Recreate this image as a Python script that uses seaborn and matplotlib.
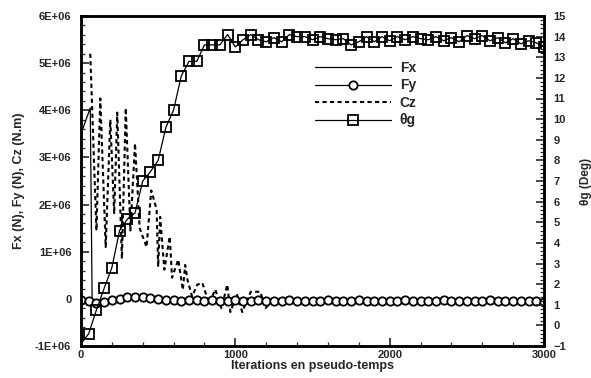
import numpy as np
import pandas as pd
import matplotlib
matplotlib.use("Agg")
import matplotlib.pyplot as plt
import seaborn as sns
from matplotlib.ticker import MultipleLocator, FuncFormatter
from matplotlib.lines import Line2D

# iterations (step 50) for theta_g and Fy
iters = list(range(0, 3001, 50))

# theta_g (deg), right axis
theta_g = [-0.9, -0.4, 0.75, 1.8, 2.8, 4.6, 5.15, 5.45, 7.0, 7.45,
           8.0, 9.6, 10.45, 12.1, 12.8, 12.8, 13.6, 13.6, 13.6, 14.1,
           13.5, 13.85, 14.1, 13.85, 13.75, 13.95, 13.75, 14.1, 14.0, 14.0,
           13.85, 14.0, 13.9, 13.85, 13.9, 13.6, 13.75, 14.0, 13.75, 14.0,
           13.8, 14.0, 13.85, 14.0, 13.9, 13.85, 14.0, 13.8, 13.95, 13.75,
           14.05, 13.9, 14.05, 13.8, 13.95, 13.7, 13.9, 13.65, 13.8, 13.7,
           13.5]

# Fy (1E+06 N)
fy = [-0.02, -0.05, -0.08, -0.06, -0.03, 0.0, 0.03, 0.04, 0.03, 0.02,
      0.0, -0.02, -0.03, -0.04, -0.03, -0.03, -0.04, -0.03, -0.05, -0.04,
      -0.03, -0.04, -0.05, -0.03, -0.04, -0.05, -0.04, -0.03, -0.05, -0.04,
      -0.04, -0.05, -0.03, -0.04, -0.05, -0.04, -0.03, -0.05, -0.04, -0.04,
      -0.05, -0.04, -0.03, -0.05, -0.04, -0.05, -0.04, -0.03, -0.05, -0.04,
      -0.05, -0.04, -0.05, -0.03, -0.04, -0.05, -0.04, -0.05, -0.05, -0.04,
      -0.06]

# Fx (1E+06 N)
fx_iters = [0, 60, 72, 110, 160, 250, 400, 600, 800, 1000, 1500, 2000, 2500, 3000]
fx = [3.5, 4.05, 0.0, -0.06, -0.08, -0.03, 0.04, 0.0, -0.03, -0.05, -0.04, -0.05, -0.05, -0.06]

# Cz (1E+06 N.m)
cz_iters = [60, 100, 125, 160, 190, 215, 235, 265, 290, 320,
            350, 380, 425, 455, 490, 500, 513, 540, 575, 590,
            630, 660, 675, 690, 720, 753, 786, 830, 870, 910,
            948, 968, 1010, 1045, 1100, 1162, 1195, 1250, 1400, 1700,
            2000, 2500, 3000]
cz = [5.2, 1.45, 4.25, 1.1, 3.8, 1.8, 3.95, 0.85, 4.05, 1.45,
      3.3, 1.5, 1.1, 2.3, 1.9, 0.68, 1.74, 0.62, 1.32, 0.45,
      0.83, 0.19, 0.72, 0.4, 0.05, 0.3, 0.34, -0.1, 0.2, -0.2,
      0.3, -0.28, 0.1, -0.28, 0.15, 0.15, -0.2, 0.0, -0.03, -0.02,
      -0.03, -0.03, -0.03]

df_main = pd.DataFrame({"it": iters, "theta": theta_g, "fy": np.array(fy) * 1e6})
df_fx = pd.DataFrame({"it": fx_iters, "fx": np.array(fx) * 1e6})
df_cz = pd.DataFrame({"it": cz_iters, "cz": np.array(cz) * 1e6})

sns.set_style("ticks")
plt.rcParams["font.family"] = ["Liberation Sans", "DejaVu Sans"]
plt.rcParams["font.weight"] = "bold"

fig = plt.figure(figsize=(5.91, 3.78), dpi=100)
ax = fig.add_axes([81 / 591, 1 - 346 / 378, 463 / 591, 330 / 378])
ax2 = ax.twinx()

lw = 0.9
cz_style = (0, (2, 1.6))
sns.lineplot(data=df_cz, x="it", y="cz", ax=ax, color="black", lw=1.5,
             linestyle=cz_style)
sns.lineplot(data=df_fx, x="it", y="fx", ax=ax, color="black", lw=lw)
sns.lineplot(data=df_main, x="it", y="fy", ax=ax, color="black", lw=lw,
             marker="o", markersize=6, markerfacecolor="white",
             markeredgecolor="black", markeredgewidth=1.3)
sns.lineplot(data=df_main, x="it", y="theta", ax=ax2, color="black", lw=lw,
             marker="s", markersize=6.5, markerfacecolor="none",
             markeredgecolor="black", markeredgewidth=1.3,
             markevery=slice(1, None))

ax.set_xlim(0, 3000)
ax.set_ylim(-1e6, 6e6)
ax2.set_ylim(-1, 15)

ax.xaxis.set_major_locator(MultipleLocator(1000))
ax.xaxis.set_minor_locator(MultipleLocator(200))
ax.yaxis.set_major_locator(MultipleLocator(1e6))
ax.yaxis.set_minor_locator(MultipleLocator(2e5))
ax2.yaxis.set_major_locator(MultipleLocator(1))
ax2.yaxis.set_minor_locator(MultipleLocator(0.2))


def fmt_e(v, pos):
    n = int(round(v / 1e6))
    return "0" if n == 0 else "%dE+06" % n


ax.yaxis.set_major_formatter(FuncFormatter(fmt_e))

for a in (ax, ax2):
    for s in a.spines.values():
        s.set_linewidth(1.8)
        s.set_color("black")
ax.tick_params(which="major", direction="in", length=6, width=1.2, labelsize=8, pad=7)
ax.tick_params(which="minor", direction="in", length=3, width=0.9)
ax.tick_params(axis="x", pad=3)
ax2.tick_params(which="major", direction="in", length=6, width=1.2, labelsize=8, pad=7)
ax2.tick_params(which="minor", direction="in", length=3, width=0.9)
for lab in ax.get_xticklabels() + ax.get_yticklabels() + ax2.get_yticklabels():
    lab.set_fontweight("bold")

ax.set_xlabel("Iterations en pseudo-temps", fontsize=9, fontweight="bold", labelpad=0)
ax.set_ylabel("Fx (N), Fy (N), Cz (N.m)", fontsize=9, fontweight="bold", labelpad=7)
ax2.set_ylabel("θg (Deg)", fontsize=8.5, fontweight="bold", labelpad=10)

handles = [
    Line2D([], [], color="black", lw=lw),
    Line2D([], [], color="black", lw=lw, marker="o", markersize=6,
           markerfacecolor="white", markeredgewidth=1.3),
    Line2D([], [], color="black", lw=1.5, linestyle=cz_style),
    Line2D([], [], color="black", lw=lw, marker="s", markersize=6.5,
           markerfacecolor="none", markeredgewidth=1.3),
]
ax2.legend(handles, ["Fx", "Fy", "Cz", "θg"], loc="upper left",
           bbox_to_anchor=(315 / 591, 1 - 61 / 378), bbox_transform=fig.transFigure,
           frameon=False, prop={"weight": "bold", "size": 10},
           handlelength=5.5, handletextpad=0.6, labelspacing=0.25,
           borderpad=0, borderaxespad=0, numpoints=1)

fig.savefig("out.png", dpi=100)
